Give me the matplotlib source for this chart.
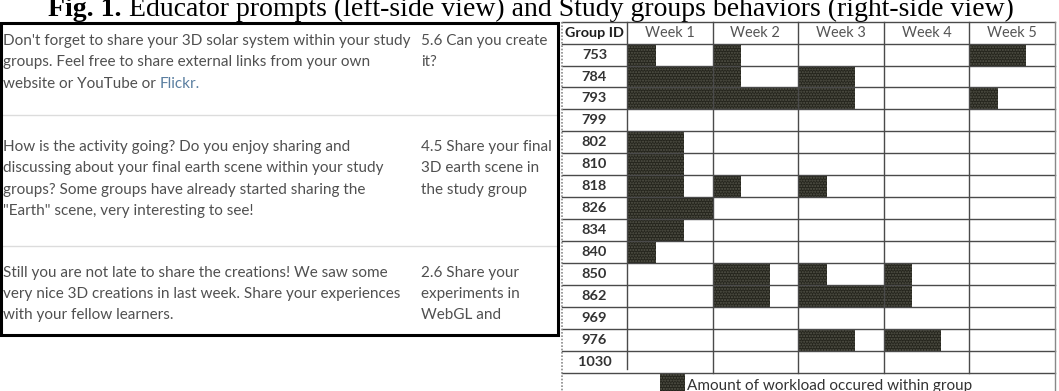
import matplotlib
matplotlib.use("Agg")
import matplotlib.pyplot as plt
from matplotlib.patches import Rectangle

# ---------------- data ----------------
group_ids = ["753", "784", "793", "799", "802", "810", "818", "826", "834",
             "840", "850", "862", "969", "976", "1030"]
weeks = ["Week 1", "Week 2", "Week 3", "Week 4", "Week 5"]
# workload per week, in thirds of a week cell (0..3)
week1 = [1, 3, 3, 0, 2, 2, 2, 3, 2, 1, 0, 0, 0, 0, 0]
week2 = [1, 1, 3, 0, 0, 0, 1, 0, 0, 0, 2, 2, 0, 0, 0]
week3 = [0, 2, 2, 0, 0, 0, 1, 0, 0, 0, 1, 3, 0, 2, 0]
week4 = [0, 0, 0, 0, 0, 0, 0, 0, 0, 0, 1, 1, 0, 2, 0]
week5 = [2, 0, 1, 0, 0, 0, 0, 0, 0, 0, 0, 0, 0, 0, 0]
workload = [week1, week2, week3, week4, week5]

title_bold = "Fig. 1."
title_rest = " Educator prompts (left-side view) and Study groups behaviors (right-side view)"
legend_label = "Amount of workload occured within group"

prompts = [
    ["Don't forget to share your 3D solar system within your study",
     "groups. Feel free to share external links from your own",
     "website or YouTube or Flickr."],
    ["How is the activity going? Do you enjoy sharing and",
     "discussing about your final earth scene within your study",
     "groups? Some groups have already started sharing the",
     "\"Earth\" scene, very interesting to see!"],
    ["Still you are not late to share the creations! We saw some",
     "very nice 3D creations in last week. Share your experiences",
     "with your fellow learners."],
]
steps = [
    ["5.6 Can you create", "it?"],
    ["4.5 Share your final", "3D earth scene in", "the study group"],
    ["2.6 Share your", "experiments in", "WebGL and"],
]

# ---------------- figure ----------------
W, H = 1059, 391
fig = plt.figure(figsize=(W / 100, H / 100), dpi=100)
fig.patch.set_facecolor("white")
renderer = fig.canvas.get_renderer()

ax0 = fig.add_axes([0, 0, 1, 1])
ax0.set_xlim(0, W)
ax0.set_ylim(H, 0)
ax0.axis("off")


def fit(t, target):
    w = t.get_window_extent(renderer).width
    t.set_fontsize(t.get_fontsize() * target / w)
    return t


# title
ty = 16
tb = ax0.text(48, ty, title_bold, fontsize=15, fontweight="bold",
              family="Liberation Serif", va="baseline", ha="left", color="black")
tr = ax0.text(0, ty, title_rest, fontsize=15, family="Liberation Serif",
              va="baseline", ha="left", color="black")
wb = tb.get_window_extent(renderer).width
wr = tr.get_window_extent(renderer).width
s = 966 / (wb + wr)
tb.set_fontsize(15 * s)
tr.set_fontsize(15 * s)
wb = tb.get_window_extent(renderer)
inv = ax0.transData.inverted()
xend = inv.transform((wb.x1, wb.y0))[0]
tr.set_x(xend)

# left box
ax0.add_patch(Rectangle((1, 22.5), 557, 312, fill=False, ec="black", lw=2.2, zorder=5))
for ysep in (115, 246):
    ax0.plot([2, 557], [ysep, ysep], color="#dcdcdc", lw=1.0)

text_color = "#505050"
block_y = [[41, 62, 84], [147, 168, 190, 211], [273, 294, 315]]
ref = ax0.text(3, 41, prompts[0][0], fontsize=11, family="Lato", va="center",
               ha="left", color=text_color)
fit(ref, 408)
fs_left = ref.get_fontsize()
ref.remove()
for bi, lines in enumerate(prompts):
    for li, line in enumerate(lines):
        if bi == 0 and li == 2:
            t1 = ax0.text(3, block_y[bi][li], "website or YouTube or ", fontsize=fs_left,
                          family="Lato", va="center", ha="left", color=text_color)
            bb = t1.get_window_extent(renderer)
            xx = inv.transform((bb.x1, bb.y0))[0]
            ax0.text(xx, block_y[bi][li], "Flickr.", fontsize=fs_left, family="Lato",
                     va="center", ha="left", color="#5a7ea0")
            continue
        ax0.text(3, block_y[bi][li], line, fontsize=fs_left, family="Lato",
                 va="center", ha="left", color=text_color)
    for li, line in enumerate(steps[bi]):
        ax0.text(421, block_y[bi][li], line, fontsize=fs_left, family="Lato",
                 va="center", ha="left", color=text_color)

# ---------------- right table ----------------
x_left_px, x_gid_px, x_right_px = 562, 627, 1055
y_head_px, y_rows_end_px = 43.6, 372.7
ax1 = fig.add_axes([x_gid_px / W, (H - y_rows_end_px) / H,
                    (x_right_px - x_gid_px) / W, (y_rows_end_px - y_head_px) / H])
n = len(group_ids)
ax1.set_xlim(0, len(weeks))
ax1.set_ylim(n, 0)
ax1.axis("off")

unit = (x_right_px - x_gid_px) / len(weeks)          # px per week
row_h = (y_rows_end_px - y_head_px) / n
gx = -(x_gid_px - x_left_px) / unit                   # left edge of table
ytop = -1.0
ylegend = n + (H - y_rows_end_px) / row_h + 0.05

bar_face = "#25251d"
bar_hatch = "#55554a"
# bars
for wi, vals in enumerate(workload):
    ys = [i + 0.5 for i in range(n)]
    ax1.barh(ys, [v / 3 for v in vals], left=wi, height=1.0,
             color=bar_face, edgecolor=bar_hatch, hatch="......", lw=0, zorder=2)

lc = "#4a4a4a"
lw = 1.0
for yy in range(-1, n + 1):
    ax1.plot([gx, len(weeks)], [yy, yy], color=lc, lw=lw, clip_on=False, zorder=3)
ax1.plot([0, 0], [ytop, n - 0.15], color=lc, lw=lw, clip_on=False, zorder=3)
for xx in range(1, len(weeks)):
    ax1.plot([xx, xx], [ytop, n], color=lc, lw=lw, clip_on=False, zorder=3)
ax1.plot([len(weeks), len(weeks)], [ytop, ylegend], color="#888888", lw=lw,
         clip_on=False, zorder=3)
ax1.plot([gx, gx], [ytop, ylegend], color="#8a8a8a", lw=1.2, ls=(0, (1, 1)),
         clip_on=False, zorder=3)

# header
gt = ax1.text(gx / 2, -0.5, "Group ID", fontsize=10, fontweight="bold", family="Lato",
              ha="center", va="center", color="#1e1e1e", clip_on=False)
fit(gt, 59)
wt0 = ax1.text(0.5, -0.5, weeks[0], fontsize=10, family="Lato", ha="center",
               va="center", color="#555555", clip_on=False)
fit(wt0, 50)
fs_w = wt0.get_fontsize()
for wi, wname in enumerate(weeks[1:], start=1):
    ax1.text(wi + 0.5, -0.5, wname, fontsize=fs_w, family="Lato", ha="center",
             va="center", color="#555555", clip_on=False)

# row labels
r0 = ax1.text(gx / 2, 0.5, group_ids[0], fontsize=10, fontweight="bold", family="Lato",
              ha="center", va="center", color="#333333", clip_on=False)
fit(r0, 25)
fs_r = r0.get_fontsize()
for i, gid in enumerate(group_ids[1:], start=1):
    ax1.text(gx / 2, i + 0.5, gid, fontsize=fs_r, fontweight="bold", family="Lato",
             ha="center", va="center", color="#333333", clip_on=False)

# legend
sw_x0 = (660 - x_gid_px) / unit
sw_x1 = (685 - x_gid_px) / unit
ax1.add_patch(Rectangle((sw_x0, n), sw_x1 - sw_x0, ylegend - n, facecolor=bar_face,
                        edgecolor=bar_hatch, hatch="......", lw=0, clip_on=False, zorder=2))
lt = ax1.text(sw_x1 + 0.02, n + 0.6, legend_label, fontsize=10, family="Lato",
              ha="left", va="center", color="#333333", clip_on=False)
fit(lt, 285)

fig.savefig("out.png", dpi=100, facecolor="white")
